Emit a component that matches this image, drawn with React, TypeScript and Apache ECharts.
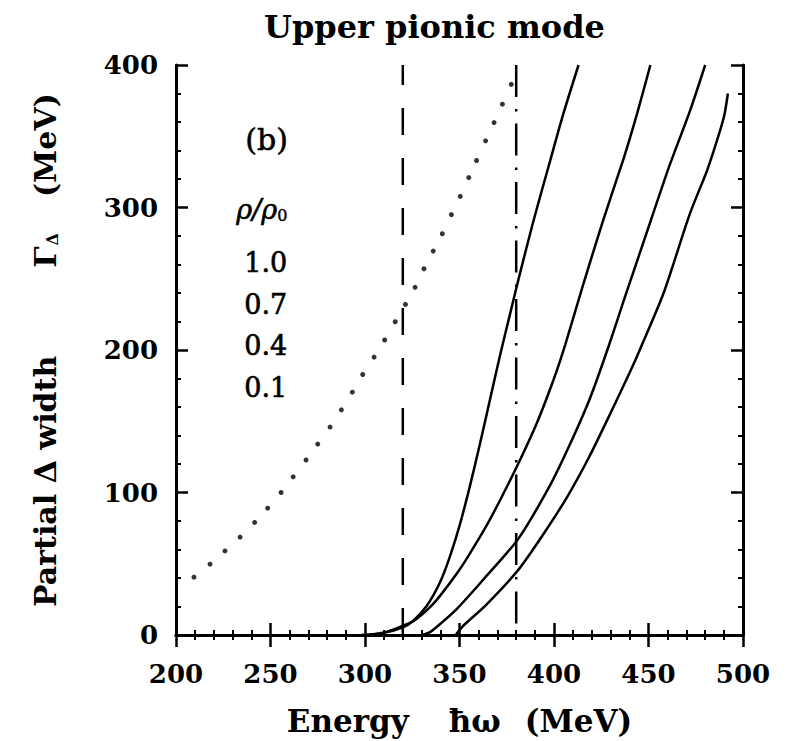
import React, { useEffect, useRef } from "react";
import * as echarts from "echarts";

const xTicks = [200, 250, 300, 350, 400, 450, 500];
const yTicks = [0, 100, 200, 300, 400];
const densityLabels = ["1.0", "0.7", "0.4", "0.1"];

const dotted: [number, number][] = [
  [209.5, 40.6], [218, 49.7], [225.9, 59], [233.9, 68.7], [241.6, 79], [248.5, 89],
  [255.6, 100], [262, 111], [268.8, 122.8], [275, 134], [281.5, 145.9], [287.5, 158],
  [293.3, 170.4], [298.8, 182.8], [304.8, 195], [310.4, 207], [316, 219.8], [321.4, 232],
  [326.5, 244], [331.2, 257], [336.1, 269.4], [340.9, 281.6], [345.7, 295], [350.4, 307.8],
  [354.9, 321], [359, 333], [363.8, 346.8], [368.3, 359.6], [372.7, 372.5], [377.4, 386.4],
];

const curve10: [number, number][] = [
  [298, 0], [310, 1.5], [320, 5.4], [325.6, 10], [332.7, 20.5], [339.7, 37], [345, 55.4],
  [350.3, 78], [355.6, 105], [360.8, 134], [366.1, 165], [371.4, 196], [376.7, 225],
  [381.1, 249], [389, 290], [398, 333], [405, 366], [413, 400],
];
const curve07: [number, number][] = [
  [303, 0], [312, 2.5], [320, 6.5], [326, 10], [334, 19], [340, 28], [348.5, 43], [354, 54],
  [364, 76], [372, 96], [381, 120], [391, 149], [400, 180], [406, 204], [415, 244],
  [426, 291], [437, 335], [444, 366], [451, 400],
];
const curve04: [number, number][] = [
  [330, 0], [334.4, 2], [340, 8], [348.5, 18.2], [363, 39.5], [381, 67.3], [397.9, 105],
  [408.5, 134], [419, 166], [429, 203], [438, 239], [451, 290], [461, 329], [472, 368], [480, 400],
];
const curve01: [number, number][] = [
  [348, 0], [352, 6.5], [364, 21], [381, 45.5], [394, 70], [407, 97], [419, 126], [430, 156],
  [440, 184], [446, 202], [458, 240], [472, 296], [481, 326], [486, 346], [490, 364], [492, 380],
];
const dashedLine: [number, number][] = [[320, 0], [320, 400]];
const dashDotLine: [number, number][] = [[380, 0], [380, 400]];

const FONT = "DejaVu Serif";

export default function App() {
  const ref = useRef<HTMLDivElement>(null);
  useEffect(() => {
    if (!ref.current) return;
    const chart = echarts.init(ref.current, null, { renderer: "svg" });
    const axisLine = { show: true, lineStyle: { color: "#000", width: 3 } };
    const axisTick = { show: true, inside: true, length: 12, lineStyle: { color: "#000", width: 2.5 } };
    const minorTick = { show: true, splitNumber: 5, length: 5, lineStyle: { color: "#000", width: 2 } };
    const tickLabel = { fontFamily: FONT, fontWeight: "bold" as const, fontSize: 26, color: "#000" };
    const solid = (data: [number, number][]) => ({
      type: "line", data, smooth: 0.25, showSymbol: false,
      lineStyle: { color: "#000", width: 2.5 },
    });
    const nameStyle = { fontFamily: FONT, fontWeight: "bold" as const, color: "#000" };
    const innerText = (extra: object) => ({
      fill: "#000", stroke: "#000", lineWidth: 0.6, ...extra,
    });
    chart.setOption({
      animation: false,
      backgroundColor: "#fff",
      title: {
        text: "Upper pionic mode", left: 259, top: 6,
        textStyle: { fontFamily: FONT, fontWeight: "bold", fontSize: 32, color: "#000" },
      },
      grid: { left: 176, top: 65, right: 47, bottom: 105 },
      xAxis: [
        {
          type: "value", min: 200, max: 500, interval: 50,
          axisLine, axisTick, minorTick, splitLine: { show: false },
          axisLabel: { ...tickLabel, margin: 26, formatter: (v: number) => (xTicks.includes(v) ? String(v) : "") },
          name: "{n|Energy}{g1| }{n|\u0127\u03c9}{g2| }{n|(MeV)}", nameLocation: "middle", nameGap: 70,
          nameTextStyle: {
            rich: {
              n: { ...nameStyle, fontSize: 31 },
              g1: { ...nameStyle, fontSize: 31, width: 40 },
              g2: { ...nameStyle, fontSize: 31, width: 24 },
            },
          },
        },
        {
          type: "value", min: 200, max: 500, interval: 50, position: "top",
          axisLine, axisTick, minorTick, splitLine: { show: false }, axisLabel: { show: false },
        },
      ],
      yAxis: [
        {
          type: "value", min: 0, max: 400, interval: 100,
          axisLine, axisTick, minorTick, splitLine: { show: false },
          axisLabel: { ...tickLabel, margin: 18, formatter: (v: number) => (yTicks.includes(v) ? String(v) : "") },
          name: "{n|Partial \u0394 width}{g1| }{n|\u0393}{s|\u0394}{g2| }{n|(MeV)}",
          nameLocation: "middle", nameGap: 116, nameRotate: 90,
          nameTextStyle: {
            rich: {
              n: { ...nameStyle, fontSize: 30 },
              s: { ...nameStyle, fontSize: 16, padding: [14, 0, 0, 1] },
              g1: { ...nameStyle, fontSize: 30, width: 88 },
              g2: { ...nameStyle, fontSize: 30, width: 36 },
            },
          },
        },
        {
          type: "value", min: 0, max: 400, interval: 100, position: "right",
          axisLine, axisTick, minorTick, splitLine: { show: false }, axisLabel: { show: false },
        },
      ],
      series: [
        {
          type: "scatter", data: dotted, symbol: "circle", symbolSize: 5,
          itemStyle: { color: "#000" },
        },
        solid(curve10),
        solid(curve07),
        solid(curve04),
        solid(curve01),
        {
          type: "line", data: dashedLine, showSymbol: false,
          lineStyle: { color: "#000", width: 2.5, type: [27, 23] },
        },
        {
          type: "line", data: dashDotLine, showSymbol: false,
          lineStyle: { color: "#000", width: 2.5, type: [32, 12, 2.5, 12], dashOffset: 47 },
        },
      ],
      graphic: [
        { type: "text", left: 245, top: 124, style: innerText({ text: "(b)", font: `30px '${FONT}'` }) },
        {
          type: "text", left: 236, top: 196,
          style: {
            text: "{i|\u03c1/\u03c1}{s|0}",
            rich: {
              i: { fontFamily: FONT, fontStyle: "italic", fontSize: 27, fill: "#000", stroke: "#000", lineWidth: 0.6 },
              s: { fontFamily: FONT, fontSize: 16, fill: "#000", stroke: "#000", lineWidth: 0.5, padding: [12, 0, 0, 0] },
            },
          },
        },
        ...densityLabels.map((t, i) => ({
          type: "text", left: 244, top: 249 + i * 41.5,
          style: innerText({ text: t, font: `27px '${FONT}'` }),
        })),
      ],
    });
    return () => chart.dispose();
  }, []);
  return <div ref={ref} style={{ width: 790, height: 741, position: "absolute", left: 0, top: 0 }} />;
}
